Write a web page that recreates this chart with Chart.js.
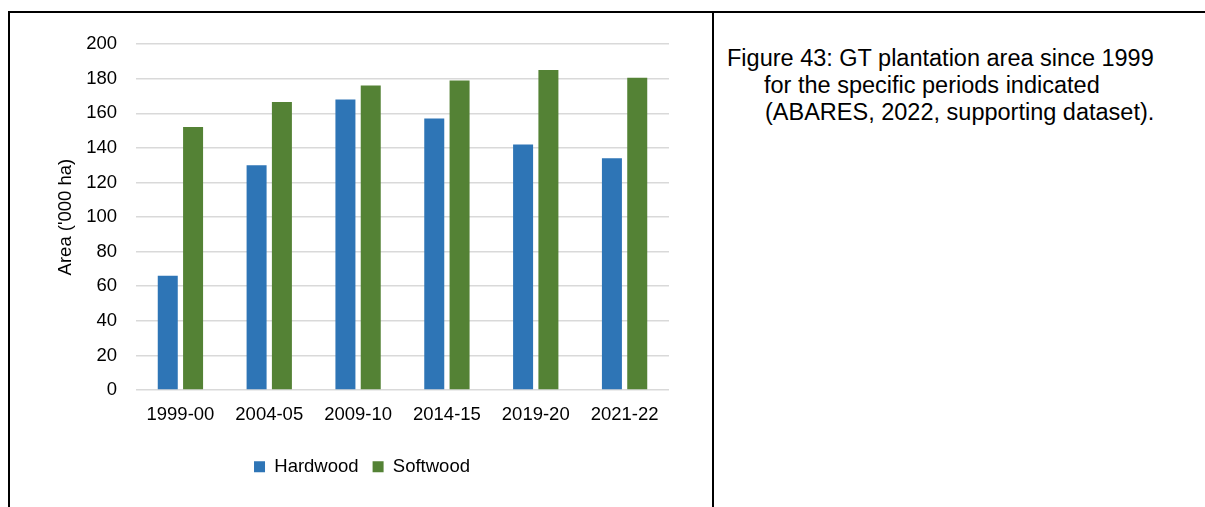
<!DOCTYPE html>
<html>
<head>
<meta charset="utf-8">
<script src="https://cdn.jsdelivr.net/npm/chart.js@4/dist/chart.umd.min.js"></script>
<style>
  html, body { margin:0; padding:0; background:#fff; }
  body { width:1205px; height:507px; position:relative; overflow:hidden; }
  #topline { position:absolute; left:8px; top:11px; width:1197px; height:2px; background:#000; }
  #leftline { position:absolute; left:8px; top:11px; width:2px; height:496px; background:#000; }
  #midline { position:absolute; left:712px; top:11px; width:2px; height:496px; background:#000; }
  #chartbox { position:absolute; left:10px; top:14px; width:700px; height:493px; }
  .cap { position:absolute; font-family:"Liberation Sans", Arial, sans-serif; font-size:23.5px; line-height:27px; color:#000; white-space:nowrap; }
</style>
</head>
<body>
<div id="topline"></div>
<div id="leftline"></div>
<div id="midline"></div>
<div id="chartbox"><canvas id="chart"></canvas></div>
<div class="cap" style="left:727px; top:45px;">Figure 43: GT plantation area since 1999</div>
<div class="cap" style="left:764px; top:72px;">for the specific periods indicated</div>
<div class="cap" style="left:765px; top:99px;">(ABARES, 2022, supporting dataset).</div>
<script>
// ============================
// DATA
// ============================
const periods = ["1999-00","2004-05","2009-10","2014-15","2019-20","2021-22"];
const hardwood = [66, 130, 168, 157, 142, 134];
const softwood = [152, 166.5, 176, 179, 185, 180.5];

const FONT = "'Liberation Sans Narrow', 'Arial Narrow', 'Liberation Sans', Arial, sans-serif";
const FS = 18.5;

// ============================
// CHART
// ============================
new Chart(document.getElementById("chart").getContext("2d"), {
  type: "bar",
  data: {
    labels: periods,
    datasets: [
      { label: "Hardwood", data: hardwood, backgroundColor: "#2E75B6", categoryPercentage: 0.57, barPercentage: 0.79 },
      { label: "Softwood", data: softwood, backgroundColor: "#548235", categoryPercentage: 0.57, barPercentage: 0.79 }
    ]
  },
  options: {
    responsive: true,
    maintainAspectRatio: false,
    animation: false,
    layout: { padding: { left: 45, right: 41, top: 26, bottom: 21 } },
    plugins: {
      tooltip: { enabled: false },
      legend: {
        position: "bottom",
        labels: {
          font: { family: FONT, size: FS },
          color: "#000",
          boxWidth: 11,
          boxHeight: 11,
          padding: 14
        }
      }
    },
    scales: {
      x: {
        grid: { display: false, drawTicks: false },
        border: { display: false },
        ticks: { font: { family: FONT, size: FS }, color: "#000", padding: 14, maxRotation: 0 },
        afterFit: s => { s.height = 53.5; }
      },
      y: {
        min: 0,
        max: 200,
        ticks: { stepSize: 20, font: { family: FONT, size: FS }, color: "#000", padding: 19 },
        grid: { color: "#D9D9D9", lineWidth: 1.5, drawTicks: false },
        border: { display: false },
        title: {
          display: true,
          text: "Area ('000 ha)",
          font: { family: FONT, size: FS },
          color: "#000",
          padding: 0
        },
        afterFit: s => { s.width = 81; }
      }
    }
  }
});
</script>
</body>
</html>
